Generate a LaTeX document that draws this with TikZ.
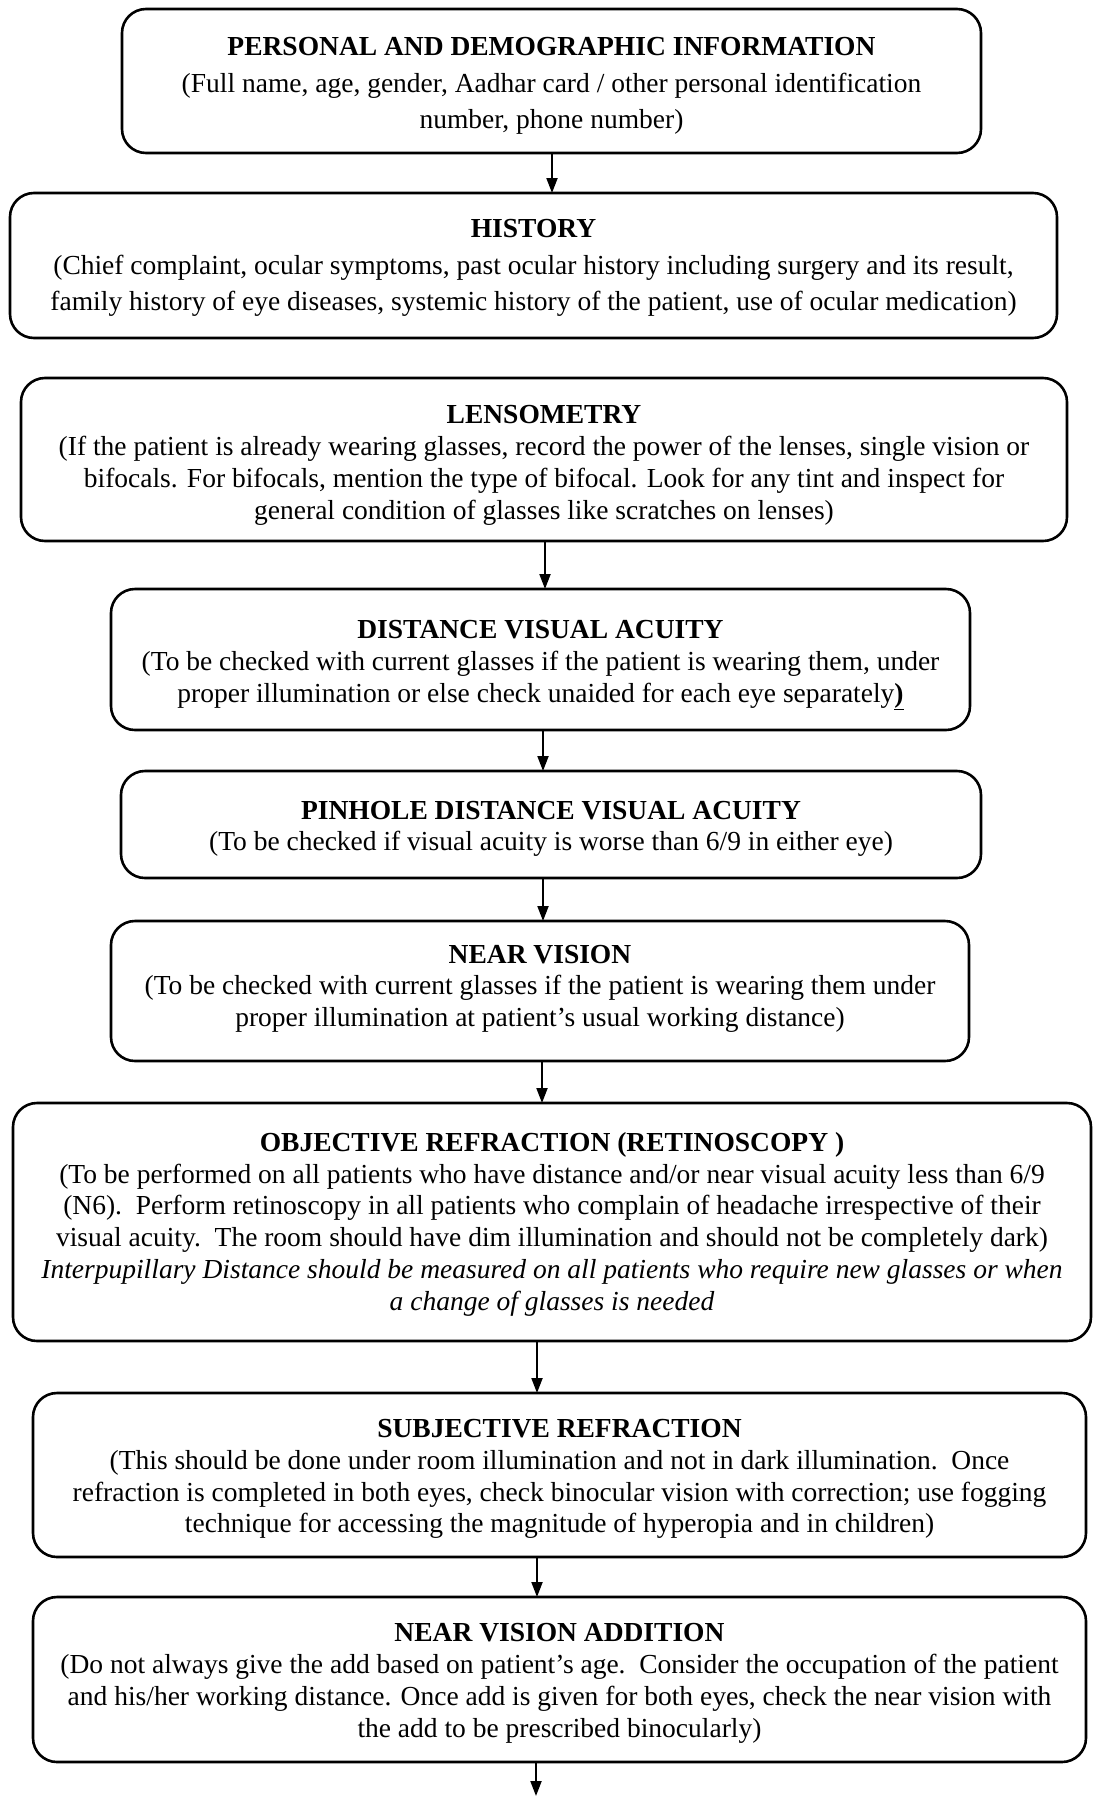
\documentclass[tikz,border=0pt]{standalone}
\usepackage{fontspec}
\setmainfont{Liberation Serif}
\usetikzlibrary{arrows.meta}
% invisible strut that makes the heading line taller, so the text block sits lower
\newcommand\headroom[1]{\rule{0pt}{#1}}
% invisible strut that makes the last line deeper, so the text block sits higher
\newcommand\footroom[1]{\rule[-#1]{0pt}{0pt}}
\begin{document}
\begin{tikzpicture}[x=1pt,y=-1pt,
  stepbox/.style={draw=black, line width=2.6pt, rounded corners=24pt,
    inner sep=0pt, outer sep=0pt, align=center, font=\fontsize{27.5}{31.8}\selectfont},
  widebox/.style={stepbox, font=\fontsize{27.5}{36.4}\selectfont},
  flow/.style={line width=2pt, -{Triangle[length=15pt,width=11pt]}}]
\useasboundingbox (0,0) rectangle (1093,1796);
\fill[white] (0,0) rectangle (1093,1796);

\node[widebox, minimum width=859pt, minimum height=144pt] (info) at (551.5,81)
  {\headroom{28pt}\textbf{PERSONAL AND DEMOGRAPHIC INFORMATION}\\
   (Full name, age, gender, Aadhar card / other personal identification\\
   number, phone number)};

\node[widebox, minimum width=1047pt, minimum height=145pt] (hist) at (533.5,265.5)
  {\headroom{23.6pt}\textbf{HISTORY}\\
   (Chief complaint, ocular symptoms, past ocular history including surgery and its result,\\
   family history of eye diseases, systemic history of the patient, use of ocular medication)};

\node[stepbox, minimum width=1046pt, minimum height=163pt] (lens) at (544,459.5)
  {\headroom{30pt}\textbf{LENSOMETRY}\\
   (If the patient is already wearing glasses, record the power of the lenses, single vision or\\
   bifocals. For bifocals, mention the type of bifocal. Look for any tint and inspect for\\
   general condition of glasses like scratches on lenses)};

\node[stepbox, minimum width=859pt, minimum height=141pt] (dva) at (540.5,659.5)
  {\headroom{29.4pt}\textbf{DISTANCE VISUAL ACUITY}\\
   (To be checked with current glasses if the patient is wearing them, under\\
   proper illumination or else check unaided for each eye separately\underline{\textbf{)}}};

\node[stepbox, minimum width=860pt, minimum height=107pt] (pin) at (551,824.5)
  {\headroom{27pt}\textbf{PINHOLE DISTANCE VISUAL ACUITY}\\
   (To be checked if visual acuity is worse than 6/9 in either eye)};

\node[stepbox, minimum width=858pt, minimum height=140pt] (near) at (540,991)
  {\textbf{NEAR VISION}\\
   (To be checked with current glasses if the patient is wearing them under\\
   proper illumination at patient’s usual working distance)\footroom{10.5pt}};

\node[stepbox, minimum width=1078pt, minimum height=238pt] (obj) at (552,1222)
  {\headroom{23.6pt}\textbf{OBJECTIVE REFRACTION (RETINOSCOPY )}\\
   (To be performed on all patients who have distance and/or near visual acuity less than 6/9\\
   (N6).\ \ Perform retinoscopy in all patients who complain of headache irrespective of their\\
   visual acuity.\ \ The room should have dim illumination and should not be completely dark)\\
   \textit{Interpupillary Distance should be measured on all patients who require new glasses or when}\\
   \textit{a change of glasses is needed}};

\node[stepbox, minimum width=1053pt, minimum height=164pt] (subj) at (559.5,1475)
  {\headroom{26.4pt}\textbf{SUBJECTIVE REFRACTION}\\
   (This should be done under room illumination and not in dark illumination.\ \ Once\\
   refraction is completed in both eyes, check binocular vision with correction; use fogging\\
   technique for accessing the magnitude of hyperopia and in children)};

\node[stepbox, minimum width=1053pt, minimum height=165pt] (add) at (559.5,1679.5)
  {\headroom{25.8pt}\textbf{NEAR VISION ADDITION}\\
   (Do not always give the add based on patient’s age.\ \ Consider the occupation of the patient\\
   and his/her working distance. Once add is given for both eyes, check the near vision with\\
   the add to be prescribed binocularly)};

% connector columns
\coordinate (c1) at (552,0);
\coordinate (c2) at (545,0);
\coordinate (c3) at (543,0);
\coordinate (c4) at (542,0);
\coordinate (c5) at (537,0);
\coordinate (c6) at (536,0);
\coordinate (exit) at (536,1796);

\draw[flow] (info.south -| c1) -- (hist.north -| c1);
\draw[flow] (lens.south -| c2) -- (dva.north -| c2);
\draw[flow] (dva.south -| c3) -- (pin.north -| c3);
\draw[flow] (pin.south -| c3) -- (near.north -| c3);
\draw[flow] (near.south -| c4) -- (obj.north -| c4);
\draw[flow] (obj.south -| c5) -- (subj.north -| c5);
\draw[flow] (subj.south -| c5) -- (add.north -| c5);
\draw[flow] (add.south -| c6) -- (exit);
\end{tikzpicture}
\end{document}
